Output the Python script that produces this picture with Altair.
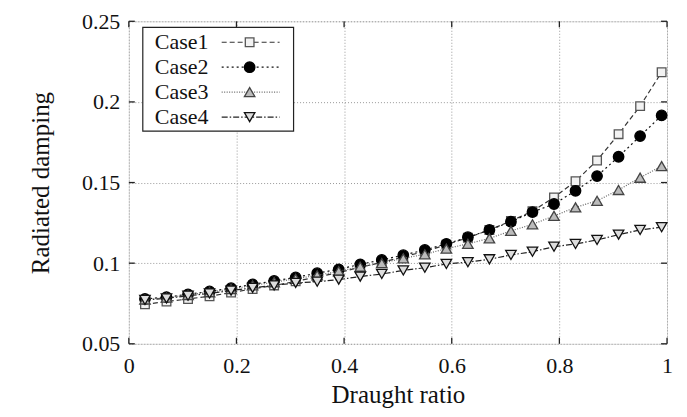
import altair as alt
import pandas as pd

x_vals = [0.03, 0.07, 0.11, 0.15, 0.19, 0.23, 0.27, 0.31, 0.35, 0.39, 0.43, 0.47, 0.51,
          0.55, 0.59, 0.63, 0.67, 0.71, 0.75, 0.79, 0.83, 0.87, 0.91, 0.95, 0.99]
case1 = [0.0745, 0.0762, 0.0778, 0.0795, 0.0818, 0.0840, 0.0862, 0.0887, 0.0915, 0.0942, 0.0975, 0.1005, 0.1040,
         0.1072, 0.1115, 0.1158, 0.1206, 0.1262, 0.1322, 0.1408, 0.1508, 0.1637, 0.1800, 0.1974, 0.2184]
case2 = [0.0778, 0.0790, 0.0807, 0.0825, 0.0845, 0.0868, 0.0890, 0.0912, 0.0938, 0.0962, 0.0993, 0.1020, 0.1050,
         0.1082, 0.1120, 0.1161, 0.1206, 0.1257, 0.1317, 0.1367, 0.1449, 0.1540, 0.1660, 0.1788, 0.1916]
case3 = [0.0775, 0.0787, 0.0803, 0.0820, 0.0840, 0.0862, 0.0882, 0.0903, 0.0925, 0.0950, 0.0978, 0.1000, 0.1030,
         0.1055, 0.1090, 0.1120, 0.1154, 0.1200, 0.1241, 0.1293, 0.1346, 0.1387, 0.1454, 0.1530, 0.1602]
case4 = [0.0772, 0.0782, 0.0798, 0.0812, 0.0830, 0.0847, 0.0862, 0.0878, 0.0885, 0.0898, 0.0917, 0.0933, 0.0955,
         0.0972, 0.0995, 0.1006, 0.1024, 0.1051, 0.1071, 0.1102, 0.1119, 0.1144, 0.1177, 0.1206, 0.1223]
case_names = ["Case1", "Case2", "Case3", "Case4"]
x_ticks = [0, 0.2, 0.4, 0.6, 0.8, 1.0]
y_ticks = [0.05, 0.1, 0.15, 0.2, 0.25]

W, H = 539, 323
FONT = "Liberation Serif"

styles = [
    dict(dash=[5, 3], line="#333333", shape="square", size=75, fill="#f2f2f2", stroke="#555555"),
    dict(dash=[2, 3], line="#111111", shape="circle", size=110, fill="#000000", stroke="#000000"),
    dict(dash=[1, 1.5], line="#666666", shape="triangle-up", size=110, fill="#bbbbbb", stroke="#444444"),
    dict(dash=[6, 2, 1.5, 2], line="#222222", shape="triangle-down", size=110, fill="#dddddd", stroke="#111111"),
]
series = [case1, case2, case3, case4]

xscale = alt.Scale(domain=[0, 1], nice=False)
yscale = alt.Scale(domain=[0.05, 0.25], nice=False, zero=False)

xaxis = alt.Axis(values=x_ticks, format=".1~f", title="Draught ratio", labelFont=FONT, titleFont=FONT,
                 labelFontSize=22, titleFontSize=25, titleFontWeight="normal", labelColor="#111", titleColor="#111",
                 tickSize=0, domain=False, grid=True, gridDash=[1, 2], gridColor="#999", gridWidth=1,
                 labelPadding=12, titlePadding=6, labelFlush=False)
yaxis = alt.Axis(values=y_ticks, format=".2~f", title="Radiated damping", labelFont=FONT, titleFont=FONT,
                 labelFontSize=22, titleFontSize=25, titleFontWeight="normal", labelColor="#111", titleColor="#111",
                 tickSize=0, domain=False, grid=True, gridDash=[1, 2], gridColor="#999", gridWidth=1,
                 labelPadding=9, titlePadding=28, labelFlush=False)


def X(f):
    return alt.X(f, scale=xscale, axis=xaxis)


def Y(f):
    return alt.Y(f, scale=yscale, axis=yaxis)


layers = []
for i, (name, vals) in enumerate(zip(case_names, series)):
    st = styles[i]
    df = pd.DataFrame({"x": x_vals, "y": vals})
    base = alt.Chart(df)
    layers.append(base.mark_line(strokeDash=st["dash"], color=st["line"], strokeWidth=1.2)
                  .encode(x=X("x:Q"), y=Y("y:Q")))
    layers.append(base.mark_point(shape=st["shape"], size=st["size"], filled=True, fill=st["fill"],
                                  stroke=st["stroke"], strokeWidth=1.3, opacity=1)
                  .encode(x=X("x:Q"), y=Y("y:Q")))

# inward ticks (gnuplot style)
xt = alt.Chart(pd.DataFrame({"x": x_ticks}))
yt = alt.Chart(pd.DataFrame({"y": y_ticks}))
tick_style = dict(color="#222", strokeWidth=1.3)
layers.append(xt.mark_rule(**tick_style).encode(x=X("x:Q"), y=alt.value(H), y2=alt.value(H - 6)))
layers.append(xt.mark_rule(**tick_style).encode(x=X("x:Q"), y=alt.value(0), y2=alt.value(6)))
layers.append(yt.mark_rule(**tick_style).encode(y=Y("y:Q"), x=alt.value(0), x2=alt.value(6)))
layers.append(yt.mark_rule(**tick_style).encode(y=Y("y:Q"), x=alt.value(W), x2=alt.value(W - 6)))

# legend box
one = alt.Chart(pd.DataFrame({"a": [0]}))
LX0, LX1, LY0, LY1 = 14, 165, 6, 110
layers.append(one.mark_rect(fill="white", stroke="#222", strokeWidth=1.2).encode(
    x=alt.value(LX0), x2=alt.value(LX1), y=alt.value(LY0), y2=alt.value(LY1)))
for i, name in enumerate(case_names):
    st = styles[i]
    yy = 21 + 25 * i
    layers.append(one.mark_text(text=name, font=FONT, fontSize=22, align="left", baseline="middle", color="#111")
                  .encode(x=alt.value(26), y=alt.value(yy)))
    layers.append(one.mark_rule(strokeDash=st["dash"], color=st["line"], strokeWidth=1.2)
                  .encode(x=alt.value(93), x2=alt.value(151), y=alt.value(yy)))
    layers.append(one.mark_point(shape=st["shape"], size=st["size"], filled=True, fill=st["fill"],
                                 stroke=st["stroke"], strokeWidth=1.3, opacity=1)
                  .encode(x=alt.value(121), y=alt.value(yy)))

chart = alt.layer(*layers).properties(
    width=W, height=H,
    autosize=alt.AutoSizeParams(type="none"),
    padding={"left": 121, "top": 13, "right": 12, "bottom": 73},
).configure_view(stroke="#222", strokeWidth=1.5).configure_axis(
    labelFont=FONT, titleFont=FONT
).configure(background="white", font=FONT)

chart.save("out.html", embed_options={"renderer": "svg", "actions": False})
